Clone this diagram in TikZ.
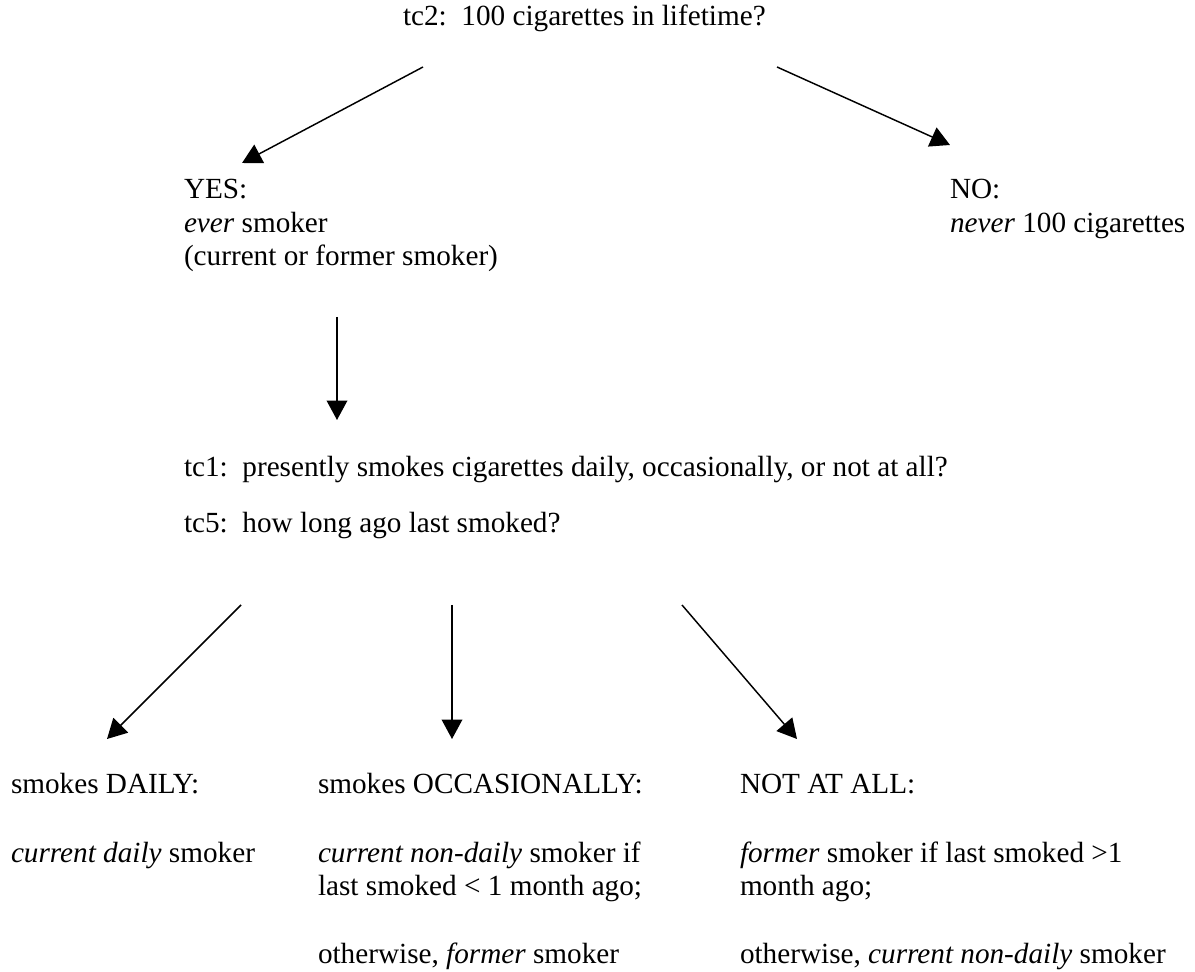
\documentclass[tikz,border=0pt]{standalone}
\usepackage{fontspec}
\setmainfont{Liberation Serif}
\usetikzlibrary{arrows.meta}
\frenchspacing
\begin{document}
\begin{tikzpicture}[x=0.4107pt,y=-0.4107pt,
  lbl/.style={anchor=base west,inner sep=0pt,outer sep=0pt,font=\fontsize{12}{13.8}\selectfont},
  conn/.style={line width=0.6pt,-{Triangle[length=8pt,width=8.5pt]}}]
\useasboundingbox (0,0) rectangle (1195,972);

% top question
\node[lbl] (tc2) at (403,26) {tc2:\ \ 100 cigarettes in lifetime?};

% YES block
\node[lbl] (yes1) at (184,199) {YES:};
\node[lbl] (yes2) at (184,233) {\textit{ever} smoker};
\node[lbl] (yes3) at (184,266) {(current or former smoker)};

% NO block
\node[lbl] (no1) at (950,199) {NO:};
\node[lbl] (no2) at (950,233) {\textit{never} 100 cigarettes};

% follow-up questions
\node[lbl] (tc1) at (184,477) {tc1:\ \ presently smokes cigarettes daily, occasionally, or not at all?};
\node[lbl] (tc5) at (184,533) {tc5:\ \ how long ago last smoked?};

% DAILY
\node[lbl] (d1) at (11,794) {smokes DAILY:};
\node[lbl] (d2) at (11,862) {\textit{current daily} smoker};

% OCCASIONALLY
\node[lbl] (o1) at (318,794) {smokes OCCASIONALLY:};
\node[lbl] (o2) at (318,862) {\textit{current non-daily} smoker if};
\node[lbl] (o3) at (318,895) {last smoked < 1 month ago;};
\node[lbl] (o4) at (318,963) {otherwise, \textit{former} smoker};

% NOT AT ALL
\node[lbl] (n1) at (740,794) {NOT AT ALL:};
\node[lbl] (n2) at (740,862) {\textit{former} smoker if last smoked >1};
\node[lbl] (n3) at (740,895) {month ago;};
\node[lbl] (n4) at (740,963) {otherwise, \textit{current non-daily} smoker};

% connector end points
\coordinate (yesS) at (423,67);
\coordinate (yesT) at (242,163);
\coordinate (noS)  at (777,67);
\coordinate (noT)  at (950,145);
\coordinate (tcS)  at (337,317);
\coordinate (tcT)  at (337,420);
\coordinate (dS)   at (241,605);
\coordinate (dT)   at (107,739);
\coordinate (oS)   at (452,605);
\coordinate (oT)   at (452,739);
\coordinate (nS)   at (682,605);
\coordinate (nT)   at (797,739);

\draw[conn] (yesS) -- (yesT);
\draw[conn] (noS) -- (noT);
\draw[conn] (tcS) -- (tcT);
\draw[conn] (dS) -- (dT);
\draw[conn] (oS) -- (oT);
\draw[conn] (nS) -- (nT);
\end{tikzpicture}
\end{document}
